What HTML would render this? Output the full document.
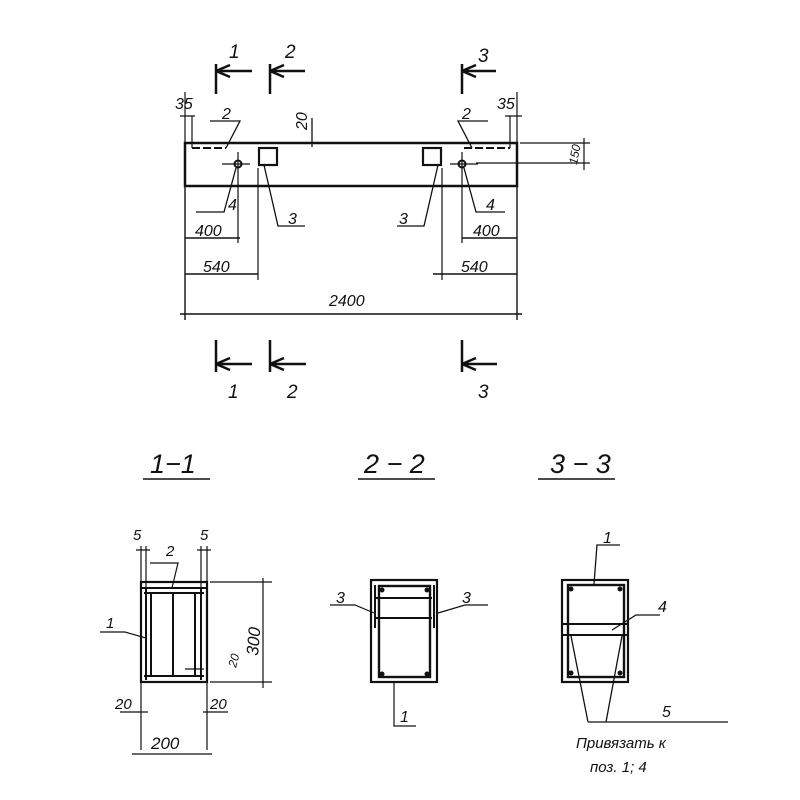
<!DOCTYPE html>
<html><head><meta charset="utf-8"><style>
html,body{margin:0;padding:0;background:#fff}
svg{display:block}
text{font-family:"Liberation Sans","DejaVu Sans",sans-serif;font-style:italic;fill:#111}
</style></head><body>
<svg width="800" height="800" viewBox="0 0 800 800" xmlns="http://www.w3.org/2000/svg" stroke="#111" fill="none" stroke-width="1.5">
<g stroke-width="2.5">
<path d="M216 64V94M216 71H252M216 71l14-6M216 71l14 6"/>
<path d="M270 64V94M270 71H305M270 71l14-6M270 71l14 6"/>
<path d="M462 64V94M462 71H496M462 71l14-6M462 71l14 6"/>
<path d="M216 340V372M216 364H252M216 364l14-6M216 364l14 6"/>
<path d="M270 340V372M270 364H306M270 364l14-6M270 364l14 6"/>
<path d="M462 340V372M462 364H497M462 364l14-6M462 364l14 6"/>
</g>
<g font-size="19" stroke="none">
<text x="229" y="58">1</text><text x="285" y="58">2</text><text x="478" y="62">3</text>
<text x="228" y="398">1</text><text x="287" y="398">2</text><text x="478" y="398">3</text>
</g>
<rect x="185" y="143" width="332" height="43" stroke-width="2.5"/>
<path d="M192 148H226M464 148H510" stroke-dasharray="8 3" stroke-width="2"/>
<path d="M192 148V116M510 148V116M185 143V92M517 143V92M180 116H195M505 116H522" stroke-width="1.2"/>
<rect x="259" y="148" width="18" height="17" stroke-width="2.2"/>
<rect x="423" y="148" width="18" height="17" stroke-width="2.2"/>
<circle cx="238" cy="164" r="3.5" stroke-width="2"/><circle cx="462" cy="164" r="3.5" stroke-width="2"/>
<path d="M222 164H250M450 164H478M238 152V243M462 152V243M258 168V280M442 168V280" stroke-width="1.2"/>
<path d="M210 121H240L226 148M488 121H458L472 148M236 168L224 212H196M264 165L278 226H305M438 165L424 226H397M464 168L476 212H505M312 118V147" stroke-width="1.3"/>
<path d="M520 143H590M476 163H590M584 138V170" stroke-width="1.2"/>
<path d="M185 186V320M517 186V320M185 238H240M462 238H517M185 274H258M433 274H517M180 314H522" stroke-width="1.4"/>
<g font-size="16" stroke="none">
<text x="175" y="109">35</text><text x="497" y="109">35</text>
<text x="222" y="119">2</text><text x="462" y="119">2</text>
<text x="307" y="130" transform="rotate(-90 307 130)">20</text>
<text x="577" y="165" transform="rotate(-80 577 165)" font-size="12">150</text>
<text x="228" y="210">4</text><text x="486" y="210">4</text>
<text x="288" y="224">3</text><text x="399" y="224">3</text>
<text x="195" y="236">400</text><text x="473" y="236">400</text>
<text x="203" y="272">540</text><text x="461" y="272">540</text>
<text x="329" y="306">2400</text>
</g>
<g font-size="27" stroke="none">
<text x="150" y="473">1−1</text><text x="364" y="473">2 − 2</text><text x="550" y="473">3 − 3</text>
</g>
<path d="M143 479H210M358 479H435M538 479H615" stroke-width="1.6"/>
<rect x="141" y="582" width="66" height="100" stroke-width="2.2"/>
<path d="M141 588H207M144 593H204M144 676H204M146 588V680M151 592V677M173 592V677M195 592V677M201 588V680" stroke-width="2"/>
<path d="M141 582V546M207 582V546M146 588V546M201 588V546M136 550H150M197 550H211M141 682V750M207 682V750M132 754H212M210 582H272M210 682H272M263 578V688M150 563H178L172 588M100 632H125L146 638M185 669H204M141 705V714M207 705V714M120 712H148M203 712H228" stroke-width="1.2"/>
<g font-size="15" stroke="none">
<text x="133" y="540">5</text><text x="200" y="540">5</text><text x="166" y="556">2</text>
<text x="106" y="628">1</text><text x="115" y="709">20</text><text x="210" y="709">20</text>
<text x="236" y="668" transform="rotate(-75 236 668)" font-size="12">20</text>
<text x="258" y="656" transform="rotate(-85 258 656)" font-size="17">300</text>
<text x="151" y="749" font-size="17">200</text>
</g>
<rect x="371" y="580" width="66" height="102" stroke-width="2.2"/>
<rect x="379" y="586" width="51" height="91" stroke-width="2.4"/>
<path d="M376 598H432M376 618H432M375 585V628M434 585V628" stroke-width="2"/>
<path d="M330 605H355L374 613M488 605H465L438 613M394 682V726H416" stroke-width="1.2"/>
<g fill="#111" stroke="none"><circle cx="382" cy="590" r="2.5"/><circle cx="427" cy="590" r="2.5"/><circle cx="382" cy="674" r="2.5"/><circle cx="427" cy="674" r="2.5"/></g>
<g font-size="16" stroke="none"><text x="336" y="603">3</text><text x="462" y="603">3</text><text x="400" y="722">1</text></g>
<rect x="562" y="580" width="66" height="102" stroke-width="2.2"/>
<rect x="568" y="585" width="56" height="92" stroke-width="2.4"/>
<path d="M563 624H627M563 635H627" stroke-width="2"/>
<g fill="#111" stroke="none"><circle cx="571" cy="589" r="2.5"/><circle cx="620" cy="589" r="2.5"/><circle cx="571" cy="673" r="2.5"/><circle cx="620" cy="673" r="2.5"/></g>
<path d="M594 584L597 545H620M612 630L636 615H660M571 636L588 722M622 636L606 722M588 722H728" stroke-width="1.3"/>
<g font-size="16" stroke="none">
<text x="603" y="543">1</text><text x="658" y="612">4</text><text x="662" y="717">5</text>
<text x="576" y="748" font-size="15">Привязать  к</text>
<text x="590" y="772" font-size="15">поз. 1; 4</text>
</g>
</svg>
</body></html>
